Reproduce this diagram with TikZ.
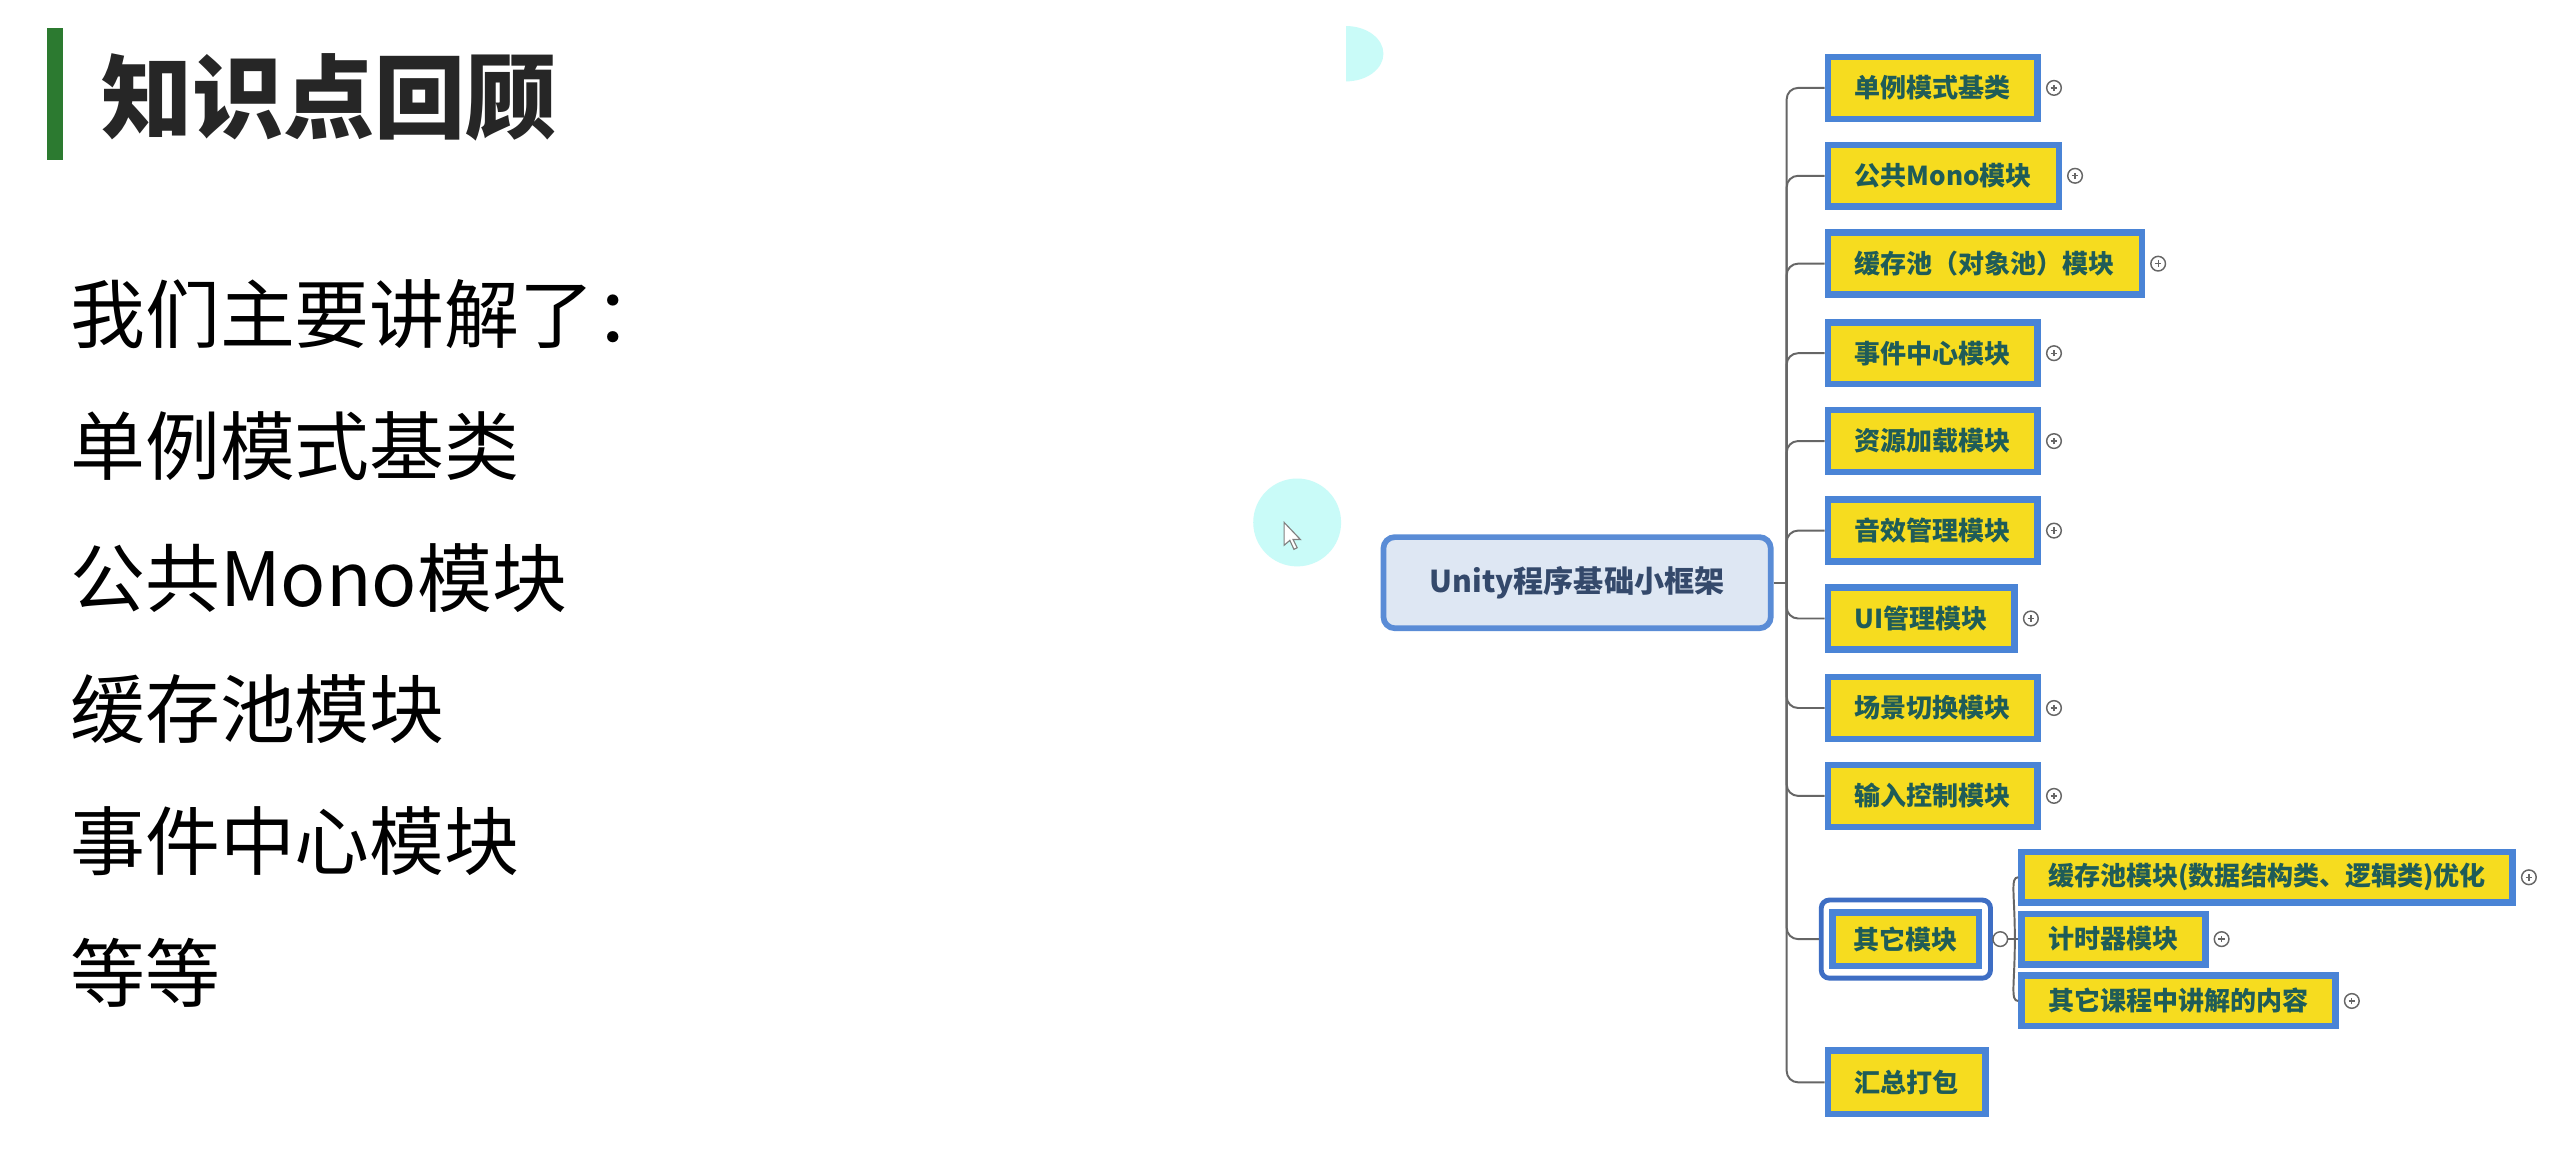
\documentclass[tikz,border=0pt]{standalone}
\usepackage{fontspec}
\setmainfont{Noto Sans CJK SC}
\definecolor{ybox}{HTML}{F6DC1F}
\definecolor{bbord}{HTML}{4A84D6}
\definecolor{tealtxt}{HTML}{1F5C58}
\definecolor{rootfill}{HTML}{DEE7F3}
\definecolor{rootbord}{HTML}{5A8CD6}
\definecolor{roottxt}{HTML}{34496B}
\definecolor{conncol}{HTML}{666666}
\definecolor{barg}{HTML}{2C7A30}
\definecolor{cyanb}{HTML}{C9FBF8}
\definecolor{titletxt}{HTML}{262626}
\definecolor{ringcol}{HTML}{3E6EC4}
\begin{document}
\begin{tikzpicture}[x=1pt,y=-1pt,
  leaf/.style={draw=bbord, line width=4pt, fill=ybox, text=tealtxt,
    font=\fontsize{16}{19}\selectfont\bfseries, minimum height=38pt,
    inner xsep=16.5pt, inner ysep=0pt, anchor=west},
  subleaf/.style={leaf, minimum height=31pt},
  rootbox/.style={draw=rootbord, line width=3.5pt, fill=rootfill, text=roottxt,
    rounded corners=7pt, font=\fontsize{18.5}{22}\selectfont\bfseries,
    minimum width=238pt, minimum height=56pt, inner sep=0pt},
  ringbox/.style={draw=ringcol, line width=3pt, rounded corners=5pt,
    minimum width=104pt, minimum height=48pt, inner sep=0pt, anchor=west},
  cn/.style={draw=conncol, line width=1.2pt},
  iconc/.style={circle, draw=conncol, line width=0.9pt, fill=white,
    minimum size=9pt, inner sep=0pt,
    path picture={\draw[conncol, line width=0.8pt]
      ([xshift=-2pt]path picture bounding box.center) -- ([xshift=2pt]path picture bounding box.center)
      ([yshift=-2pt]path picture bounding box.center) -- ([yshift=2pt]path picture bounding box.center);}},
  collc/.style={circle, draw=conncol, line width=0.9pt, fill=white,
    minimum size=9pt, inner sep=0pt},
  lefttxt/.style={anchor=west, inner sep=0pt, font=\fontsize{46}{55}\selectfont, text=black},
  titlestyle/.style={anchor=west, inner sep=0pt, font=\fontsize{56}{67}\selectfont\bfseries, text=titletxt}
]
\useasboundingbox[fill=white] (0,0) rectangle (1568,710.3);

% screen-recording highlights
\begin{scope}
  \clip (827,0) rectangle (900,70);
  \fill[cyanb] (827,33) ellipse [x radius=23, y radius=17];
\end{scope}
\fill[cyanb] (797,321) circle (27);
\filldraw[fill=white, draw=gray, line width=0.7pt]
  (789,321) -- (789,335) -- (792.5,332) -- (795,337.5) -- (797,336.5) -- (794.5,331.5) -- (799,331.5) -- cycle;

% left side
\fill[barg] (29,17) rectangle (39,98);
\node[titlestyle] (title) at (62,60) {知识点回顾};
\node[lefttxt] (l0) at (43,193) {我们主要讲解了：};
\node[lefttxt] (l1) at (43,274) {单例模式基类};
\node[lefttxt] (l2) at (43,355) {公共Mono模块};
\node[lefttxt] (l3) at (43,436) {缓存池模块};
\node[lefttxt] (l4) at (43,517) {事件中心模块};
\node[lefttxt] (l5) at (43,598) {等等};

% mind map
\node[rootbox] (root) at (969,358) {Unity程序基础小框架};
\node[leaf] (c1) at (1121,54) {单例模式基类};
\node[leaf] (c2) at (1121,108) {公共Mono模块};
\node[leaf] (c3) at (1121,162) {缓存池（对象池）模块};
\node[leaf] (c4) at (1121,217) {事件中心模块};
\node[leaf] (c5) at (1121,271) {资源加载模块};
\node[leaf] (c6) at (1121,326) {音效管理模块};
\node[leaf] (c7) at (1121,380) {UI管理模块};
\node[leaf] (c8) at (1121,435) {场景切换模块};
\node[leaf] (c9) at (1121,489) {输入控制模块};
\node[ringbox] (c10) at (1117.5,577) {};
\node[leaf, anchor=center, minimum width=90pt, minimum height=33pt, inner xsep=0pt] (c10in) at (c10.center) {其它模块};
\node[leaf, minimum height=39pt] (c11) at (1121,665) {汇总打包};

\node[subleaf] (s1) at (1240,539) {缓存池模块(数据结构类、逻辑类)优化};
\node[subleaf] (s2) at (1240,577) {计时器模块};
\node[subleaf] (s3) at (1240,615) {其它课程中讲解的内容};

% connectors
\draw[cn] (root.east) -- ++(8,0) coordinate (tk);
\foreach \c in {c1,c2,c3,c4,c5,c6,c7,c8,c9,c10,c11}
  \draw[cn, rounded corners=7pt] (tk) |- (\c.west);

\node[collc] (cc) at ([xshift=4.5pt]c10.east) {};
\draw[cn] (cc.east) -- ++(4,0) coordinate (sp);
\draw[cn] (sp) -- (s2.west);
\draw[cn] (sp) .. controls +(0,-28) and +(-5,0) .. (s1.west);
\draw[cn] (sp) .. controls +(0,28) and +(-5,0) .. (s3.west);

% expand icons
\foreach \c in {c1,c2,c3,c4,c5,c6,c7,c8,c9,s1,s2,s3}
  \node[iconc] (i\c) at ([xshift=8pt]\c.east) {};
\end{tikzpicture}
\end{document}
